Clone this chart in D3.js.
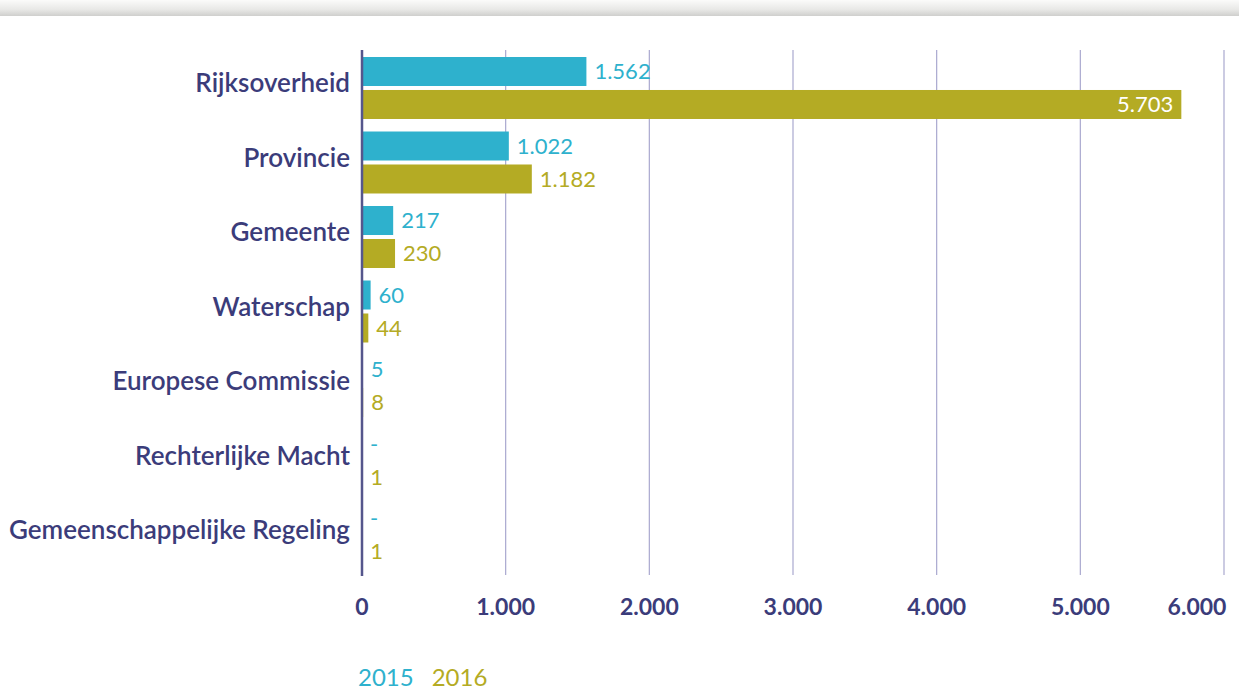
<!DOCTYPE html>
<html>
<head>
<meta charset="utf-8">
<script src="https://cdn.jsdelivr.net/npm/d3@7"></script>
<style>
  body { margin: 0; background: #fff; }
  svg { display: block; font-family: Lato, "Open Sans", sans-serif; }
</style>
</head>
<body>
<svg id="chart" width="1239" height="692"></svg>
<script>
// data
const categories = ["Rijksoverheid", "Provincie", "Gemeente", "Waterschap",
  "Europese Commissie", "Rechterlijke Macht", "Gemeenschappelijke Regeling"];
const values2015 = [1562, 1022, 217, 60, 5, null, null];
const values2016 = [5703, 1182, 230, 44, 8, 1, 1];
const seriesNames = ["2015", "2016"];
const xTicks = [0, 1000, 2000, 3000, 4000, 5000, 6000];

const colors = ["#2eb1cd", "#b4ab24"];
const navy = "#3b3c7a";

const svg = d3.select("#chart");

// grey bar at the top
const defs = svg.append("defs");
const grad = defs.append("linearGradient").attr("id", "topbar")
  .attr("x1", 0).attr("x2", 0).attr("y1", 0).attr("y2", 1);
grad.append("stop").attr("offset", "0%").attr("stop-color", "#fbfbfa");
grad.append("stop").attr("offset", "60%").attr("stop-color", "#e8e8e6");
grad.append("stop").attr("offset", "100%").attr("stop-color", "#cfcfcd");
svg.append("rect").attr("x", 0).attr("y", 0).attr("width", 1239).attr("height", 16)
  .attr("fill", "url(#topbar)");

// scales
const x = d3.scaleLinear().domain([0, 6000]).range([362, 1224]);
const y = d3.scaleBand().domain(categories).range([57, 566]).paddingInner(0.168).paddingOuter(0);
const sub = d3.scaleBand().domain(seriesNames).range([0, y.bandwidth()]).paddingInner(0.121);

// gridlines
svg.append("g").selectAll("line")
  .data(xTicks.slice(1))
  .join("line")
    .attr("x1", d => x(d)).attr("x2", d => x(d))
    .attr("y1", 50).attr("y2", 575)
    .attr("stroke", "#a9a8cf")
    .attr("stroke-width", 1.2);

// bars
const rows = categories.map((c, i) => ({cat: c, vals: [values2015[i], values2016[i]]}));

const groups = svg.append("g").selectAll("g")
  .data(rows)
  .join("g")
    .attr("transform", d => `translate(0,${y(d.cat)})`);

groups.selectAll("rect")
  .data(d => d.vals.map((v, j) => ({v: v, s: seriesNames[j], j: j})))
  .join("rect")
    .attr("x", x(0))
    .attr("y", d => sub(d.s))
    .attr("width", d => d.v ? x(d.v) - x(0) : 0)
    .attr("height", sub.bandwidth())
    .attr("fill", d => colors[d.j]);

const fmt = v => v == null ? "-" : d3.format(",")(v).replace(/,/g, ".");

groups.selectAll("text")
  .data(d => d.vals.map((v, j) => ({v: v, s: seriesNames[j], j: j})))
  .join("text")
    .attr("x", d => d.v > 5000 ? x(d.v) - 8 : x(d.v || 0) + 8)
    .attr("y", d => sub(d.s) + sub.bandwidth() / 2)
    .attr("dy", "0.36em")
    .attr("text-anchor", d => d.v > 5000 ? "end" : "start")
    .attr("font-size", 22)
    .attr("fill", d => d.v > 5000 ? "#fff" : colors[d.j])
    .text(d => fmt(d.v));

// category labels
svg.append("g").selectAll("text")
  .data(categories)
  .join("text")
    .attr("x", 350)
    .attr("y", d => y(d) + y.bandwidth() / 2 - 5)
    .attr("dy", "0.36em")
    .attr("text-anchor", "end")
    .attr("font-size", 26)
    .attr("font-weight", 600)
    .attr("fill", navy)
    .text(d => d);

// axis line
svg.append("line")
  .attr("x1", x(0)).attr("x2", x(0))
  .attr("y1", 50).attr("y2", 576)
  .attr("stroke", "#55568c")
  .attr("stroke-width", 2.5);

// tick labels
svg.append("g").selectAll("text")
  .data(xTicks)
  .join("text")
    .attr("x", d => d === 6000 ? x(d) - 27 : x(d))
    .attr("y", 615)
    .attr("text-anchor", "middle")
    .attr("font-size", 23)
    .attr("font-weight", 700)
    .attr("fill", navy)
    .text(d => fmt(d));

// legend
const legend = svg.append("text")
  .attr("x", 358).attr("y", 686)
  .attr("font-size", 24);
legend.append("tspan").attr("fill", colors[0]).text(seriesNames[0]);
legend.append("tspan").attr("fill", colors[1]).attr("dx", 18).text(seriesNames[1]);
</script>
</body>
</html>
